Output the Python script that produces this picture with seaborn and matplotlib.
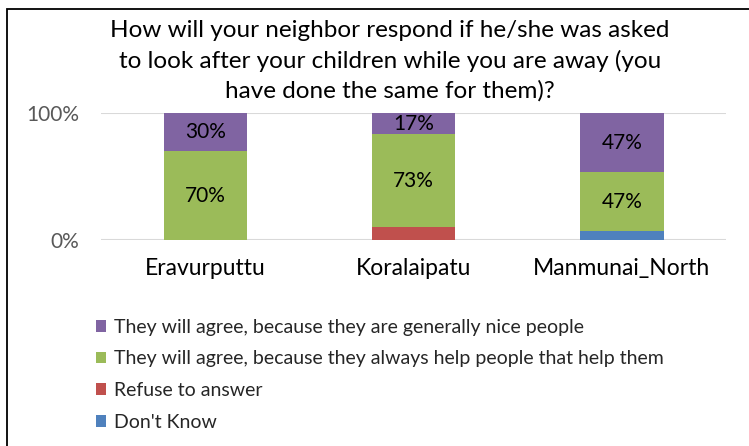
"""
Stacked 100% bar chart: neighbour response to child minding request
"""

import numpy as np
import pandas as pd
import matplotlib
matplotlib.use("Agg")
import matplotlib.pyplot as plt
from matplotlib.patches import Patch, Rectangle
import seaborn as sns

# ============================================================================
# 1. DATA
# ============================================================================

districts = ['Eravurputtu', 'Koralaipatu', 'Manmunai_North']

dont_know = [0.0, 0.0, 6.7]
refuse = [0.0, 10.0, 0.0]
help_back = [70.0, 73.3, 46.7]
nice_people = [30.0, 16.7, 46.7]

series_names = [
    "They will agree, because they are generally nice people",
    "They will agree, because they always help people that help them",
    "Refuse to answer",
    "Don't Know",
]
series_colors = ['#8064A2', '#9BBB59', '#C0504D', '#4F81BD']

title = ("How will your neighbor respond if he/she was asked\n"
         "to look after your children while you are away (you\n"
         "have done the same for them)?")

df = pd.DataFrame({
    'District': districts,
    'DontKnow': dont_know,
    'Refuse': refuse,
    'Help': help_back,
    'Nice': nice_people,
})
df['cum_dk'] = df['DontKnow']
df['cum_ref'] = df['cum_dk'] + df['Refuse']
df['cum_help'] = df['cum_ref'] + df['Help']
df['cum_nice'] = df['cum_help'] + df['Nice']

# ============================================================================
# 2. FIGURE
# ============================================================================

sns.set_style('white')
plt.rcParams['font.family'] = ['Lato', 'DejaVu Sans']

fig = plt.figure(figsize=(7.49, 4.46), dpi=100)
ax = fig.add_axes([101 / 749, 1 - 240 / 446, 625 / 749, 127 / 446])

# draw from the top of the stack down so lower segments overlay
for col, color in zip(['cum_nice', 'cum_help', 'cum_ref', 'cum_dk'], series_colors):
    sns.barplot(data=df, x='District', y=col, color=color, width=0.4,
                saturation=1, ax=ax, edgecolor='none', linewidth=0)

# data labels for the two agree series
for i, row in df.iterrows():
    if row['Help'] > 0:
        ax.text(i, row['cum_ref'] + row['Help'] / 2, f"{row['Help']:.0f}%",
                ha='center', va='center', fontsize=15, color='black')
    if row['Nice'] > 0:
        ax.text(i, row['cum_help'] + row['Nice'] / 2, f"{row['Nice']:.0f}%",
                ha='center', va='center', fontsize=15, color='black')

ax.set_ylim(0, 100)
ax.set_xlim(-0.5, 2.5)
ax.set_yticks([0, 100])
ax.set_yticklabels(['0%', '100%'], fontsize=15, color='#595959')
ax.set_xticks(range(len(districts)))
ax.set_xticklabels(districts, fontsize=16.5, color='black')
ax.tick_params(axis='x', length=0, pad=13)
ax.tick_params(axis='y', length=0, pad=16)
ax.set_xlabel('')
ax.set_ylabel('')
for s in ax.spines.values():
    s.set_visible(False)
ax.grid(False)
for yv in [0, 100]:
    ax.axhline(yv, color='#D9D9D9', lw=1.5, zorder=0)

fig.text(390 / 749, 1 - 20 / 446, title, ha='center', va='top',
         fontsize=17.5, color='black', linespacing=1.47)

handles = [Patch(facecolor=c, edgecolor='none') for c in series_colors]
fig.legend(handles, series_names, loc='upper left',
           bbox_to_anchor=(88 / 749, 1 - 311 / 446), frameon=False,
           fontsize=14, handlelength=0.55, handleheight=0.55,
           handletextpad=0.4, labelspacing=0.75, borderaxespad=0)

fig.patches.append(Rectangle((7 / 749, -0.5), 2, 0.5 + 1 - 9 / 446,
                             transform=fig.transFigure, fill=False,
                             edgecolor='black', lw=1.3))

plt.savefig('out.png', dpi=100)
plt.close()
